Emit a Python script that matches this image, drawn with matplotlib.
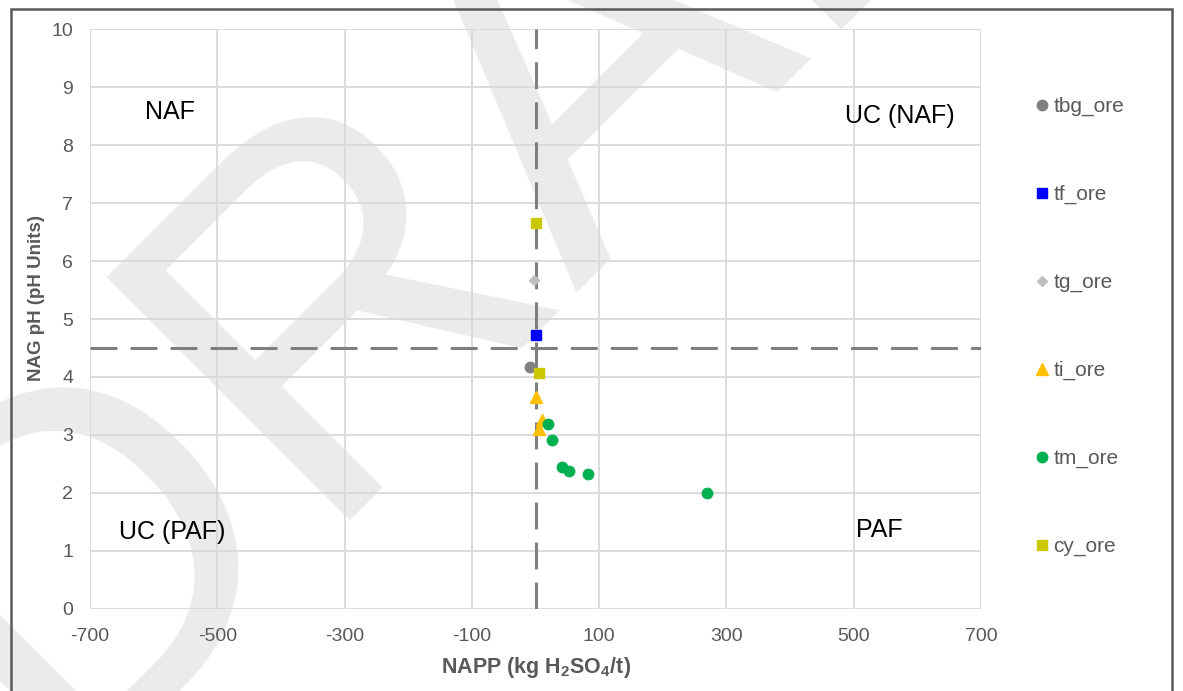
import matplotlib
matplotlib.use("Agg")
import matplotlib.pyplot as plt
from matplotlib.patches import Rectangle

plt.rcParams['font.family'] = ['Liberation Sans', 'DejaVu Sans']
plt.rcParams['mathtext.fontset'] = 'custom'
plt.rcParams['mathtext.rm'] = 'Liberation Sans'
plt.rcParams['mathtext.bf'] = 'Liberation Sans:bold'
plt.rcParams['axes.unicode_minus'] = False

# Data (NAPP kg H2SO4/t, NAG pH)
tbg_x = [-8]
tbg_y = [4.17]
tf_x = [0]
tf_y = [4.72]
tg_x = [-2]
tg_y = [5.67]
ti_x = [1, 10, 6]
ti_y = [3.66, 3.25, 3.10]
tm_x = [19, 26, 41, 53, 82, 269]
tm_y = [3.19, 2.91, 2.45, 2.38, 2.32, 2.0]
cy_x = [0, 6]
cy_y = [6.66, 4.07]

series = [
    ("tbg_ore", tbg_x, tbg_y, 'o', '#808080', 7.5),
    ("tf_ore", tf_x, tf_y, 's', '#0000FF', 7),
    ("tg_ore", tg_x, tg_y, 'D', '#BFBFBF', 5),
    ("ti_ore", ti_x, ti_y, '^', '#FFC000', 8),
    ("tm_ore", tm_x, tm_y, 'o', '#00B050', 7.5),
    ("cy_ore", cy_x, cy_y, 's', '#CCC800', 7),
]

fig = plt.figure(figsize=(11.83, 6.91), dpi=100)
fig.patch.set_facecolor('white')

# DRAFT watermark behind the chart
fig.text(0.046, -0.123, "DRAFT", fontsize=360, color='#EBEBEB', rotation=45,
         rotation_mode='anchor', ha='left', va='baseline', zorder=0)

ax = fig.add_axes([0.0761, 0.1187, 0.7532, 0.8393])
ax.set_facecolor('none')
ax.set_zorder(1)

for name, xs, ys, mk, col, ms in series:
    ax.plot(xs, ys, linestyle='none', marker=mk, color=col, markersize=ms,
            label=name, zorder=4)

ax.axvline(0, color='#7F7F7F', lw=2.2, dashes=(8.8, 4.3), zorder=3)
ax.axhline(4.5, color='#7F7F7F', lw=2.2, dashes=(8.8, 4.3), zorder=3)

ax.set_xlim(-700, 700)
ax.set_ylim(0, 10)
ax.set_xticks(range(-700, 701, 200))
ax.set_yticks(range(0, 11))
ax.grid(True, color='#D9D9D9', lw=1.3, zorder=1)
ax.set_axisbelow(True)
for s in ax.spines.values():
    s.set_visible(False)
ax.tick_params(length=0, labelsize=14, colors='#595959')
ax.tick_params(axis='x', pad=14)
ax.tick_params(axis='y', pad=12)

ax.set_xlabel(r"NAPP (kg H$_\mathbf{2}$SO$_\mathbf{4}$/t)", fontsize=15.5,
              fontweight='bold', color='#595959', labelpad=7)
ax.set_ylabel("NAG pH (pH Units)", fontsize=13.5, fontweight='bold',
              color='#595959')
ax.yaxis.set_label_coords(-0.051, 0.536)

ax.text(-574, 8.57, "NAF", fontsize=18, ha='center', va='center')
ax.text(573, 8.5, "UC (NAF)", fontsize=18, ha='center', va='center')
ax.text(-571, 1.33, "UC (PAF)", fontsize=18, ha='center', va='center')
ax.text(540, 1.36, "PAF", fontsize=18, ha='center', va='center')

leg = ax.legend(loc='upper left', bbox_to_anchor=(1.052, 0.897), frameon=False,
                fontsize=15, labelspacing=3.3, handlelength=0.6,
                handletextpad=0.25, borderaxespad=0)
for t in leg.get_texts():
    t.set_color('#595959')

fig.patches.append(Rectangle((11 / 1183, -0.01), 1161 / 1183, 1 - 9 / 691 + 0.01,
                             transform=fig.transFigure, fill=False,
                             edgecolor='#595959', lw=1.8, zorder=5))

fig.savefig("out.png", dpi=100)
